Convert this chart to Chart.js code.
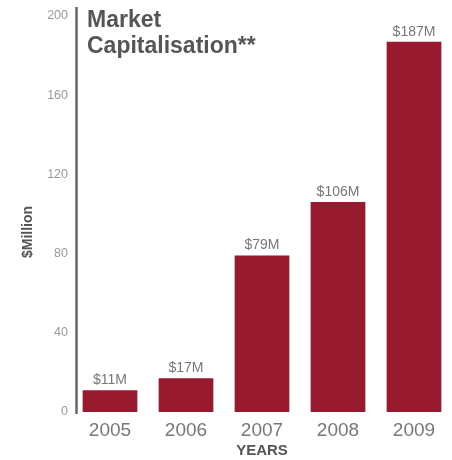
<!DOCTYPE html>
<html>
<head>
<meta charset="utf-8">
<script src="https://cdn.jsdelivr.net/npm/chart.js@4/dist/chart.umd.min.js"></script>
<style>
  html, body { margin: 0; padding: 0; background: #fff; }
  #wrap { width: 452px; height: 460px; position: relative; }
</style>
</head>
<body>
<div id="wrap"><canvas id="capChart" width="452" height="460"></canvas></div>
<script>
// Market capitalisation by year, $ million
const years = ['2005', '2006', '2007', '2008', '2009'];
const capValues = [11, 17, 79, 106, 187];
const capLabels = ['$11M', '$17M', '$79M', '$106M', '$187M'];
const yTicks = [0, 40, 80, 120, 160, 200];

const FONT = "'Liberation Sans', Arial, sans-serif";

// Vertical axis rule, axis caption and heading text
const decorations = {
    id: 'decorations',
    afterDraw(chart) {
        const c = chart.ctx;
        const area = chart.chartArea;
        c.save();
        c.strokeStyle = '#666';
        c.lineWidth = 2.5;
        c.beginPath();
        c.moveTo(area.left + 4.5, 7);
        c.lineTo(area.left + 4.5, area.bottom + 2);
        c.stroke();

        c.fillStyle = '#555';
        c.font = 'bold 23px ' + FONT;
        c.textBaseline = 'middle';
        c.textAlign = 'left';
        c.fillText('Market', 87, 21);
        c.fillText('Capitalisation**', 87, 47);

        c.translate(28, 232);
        c.rotate(-Math.PI / 2);
        c.textAlign = 'center';
        c.font = 'bold 14px ' + FONT;
        c.fillText('$Million', 0, 0);
        c.restore();
    }
};

// Value captions above each bar
const barLabels = {
    id: 'barLabels',
    afterDatasetsDraw(chart) {
        const c = chart.ctx;
        const meta = chart.getDatasetMeta(0);
        c.save();
        c.fillStyle = '#777';
        c.font = '14px ' + FONT;
        c.textAlign = 'center';
        c.textBaseline = 'bottom';
        meta.data.forEach((bar, i) => {
            c.fillText(capLabels[i], bar.x, bar.y - 3);
        });
        c.restore();
    }
};

const ctx = document.getElementById('capChart').getContext('2d');
new Chart(ctx, {
    type: 'bar',
    data: {
        labels: years,
        datasets: [{
            data: capValues,
            backgroundColor: '#971a2e',
            borderWidth: 0,
            barPercentage: 0.72,
            categoryPercentage: 1
        }]
    },
    options: {
        responsive: false,
        animation: false,
        layout: { padding: { top: 16, right: 0, bottom: 0, left: 0 } },
        plugins: {
            legend: { display: false },
            tooltip: { enabled: false }
        },
        scales: {
            x: {
                grid: { display: false, drawTicks: false },
                border: { display: false },
                ticks: {
                    color: '#777',
                    font: { family: FONT, size: 19 },
                    padding: 7
                },
                title: {
                    display: true,
                    text: 'YEARS',
                    color: '#555',
                    font: { family: FONT, size: 15, weight: 'bold' },
                    padding: { top: 0, bottom: 0 }
                },
                afterFit(scale) { scale.height = 48; }
            },
            y: {
                min: 0,
                max: 200,
                afterBuildTicks(scale) {
                    scale.ticks = yTicks.map(v => ({ value: v }));
                },
                grid: { display: false, drawTicks: false },
                border: { display: false },
                ticks: {
                    color: '#999',
                    font: { family: FONT, size: 12.5 },
                    padding: 4
                },
                afterFit(scale) { scale.width = 72; }
            }
        }
    },
    plugins: [decorations, barLabels]
});
</script>
</body>
</html>
